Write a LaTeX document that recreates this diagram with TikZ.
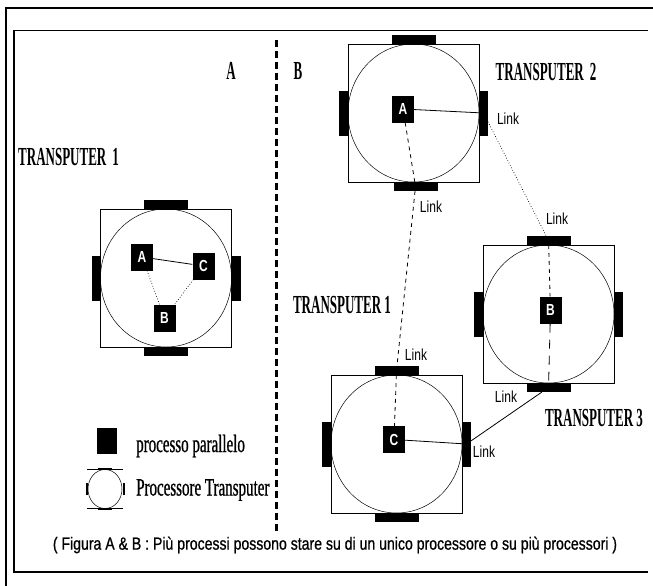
\documentclass[tikz,border=0pt]{standalone}
\usepackage{fontspec}
\usepackage{tikz}
\usetikzlibrary{positioning,shapes.geometric}

\newfontfamily\capfont[FakeStretch=0.5]{Liberation Serif}
\newfontfamily\keyfont[FakeStretch=0.6,FakeBold=0.8]{Liberation Serif}
\newfontfamily\narrowsans[FakeStretch=0.75]{Liberation Sans}
\newfontfamily\notesans[FakeStretch=0.8,FakeBold=0.8]{Liberation Sans}

\begin{document}
\begin{tikzpicture}[x=1pt, y=-1pt,
    box/.style={draw, line width=0.9pt, minimum width=131pt, minimum height=138pt, inner sep=0pt, outer sep=0pt},
    cpu/.style={draw, ellipse, line width=0.5pt, minimum width=131pt, minimum height=138pt, inner sep=0pt},
    hpad/.style={fill=black, minimum width=44pt, minimum height=9pt, inner sep=0pt, outer sep=0pt},
    vpad/.style={fill=black, minimum width=9pt, minimum height=45pt, inner sep=0pt, outer sep=0pt},
    proc/.style={fill=black, text=white, font=\narrowsans\bfseries\fontsize{16}{16}\selectfont, minimum width=22pt, minimum height=27pt, inner sep=0pt},
    link/.style={font=\narrowsans\fontsize{16}{16}\selectfont, inner sep=0pt},
    title/.style={font=\capfont\bfseries\fontsize{26}{26}\selectfont, inner sep=0pt},
    keytext/.style={font=\keyfont\fontsize{25}{25}\selectfont, inner sep=0pt, anchor=west},
    wire/.style={line width=0.8pt},
    shortdash/.style={line width=0.8pt, dash pattern=on 4pt off 4pt},
    dots/.style={line width=0.7pt, dotted},
    longdash/.style={line width=0.8pt, dash pattern=on 9pt off 7pt}]

  \useasboundingbox (0,0) rectangle (653,586);

  %%% Frames and the A | B divider
  \draw[line width=1.2pt] (6,586) -- (6,8) -- (653,8);
  \draw[line width=1.2pt] (648,30.5) -- (14,30.5) -- (14,572) -- (648,572);
  \draw[line width=3pt, dash pattern=on 7pt off 4pt] (276,40) -- (276,532);

  %%% Part A: all processes on one transputer
  \node[title] (labA) at (231,71) {A};
  \node[title, anchor=west] (nameA) at (18,157) {TRANSPUTER\hspace{6pt}1};

  \node[box] (tA) at (166,278) {};
  \node[cpu] (cpuA) at (tA) {};
  \node[hpad, above=0pt of tA] (tAN) {};
  \node[hpad, below=0pt of tA] (tAS) {};
  \node[vpad, left=0pt of tA] (tAW) {};
  \node[vpad, right=0pt of tA] (tAE) {};

  \node[proc] (aA) at (142,257) {A};
  \node[proc] (aC) at (203.5,266) {C};
  \node[proc] (aB) at (164.5,318) {B};

  \draw[wire] (aA) -- (aC);
  \draw[dots] (aA) -- (aB);
  \draw[dots] (aC) -- (aB);

  % Legend
  \node[fill=black, minimum width=20pt, minimum height=26pt, inner sep=0pt] (keyProc) at (107,441) {};
  \node[keytext] (keyProcText) at (136,446) {processo parallelo};
  \node[draw, ellipse, line width=0.5pt, minimum width=34pt, minimum height=39pt, inner sep=0pt] (keyCpu) at (105,489) {};
  \draw[line width=0.8pt] ([xshift=-18pt]keyCpu.north) -- ([xshift=18pt]keyCpu.north);
  \draw[line width=0.8pt] ([xshift=-18pt]keyCpu.south) -- ([xshift=18pt]keyCpu.south);
  \draw[line width=2pt] ([xshift=-7pt]keyCpu.north) -- ([xshift=7pt]keyCpu.north);
  \draw[line width=2pt] ([xshift=-7pt]keyCpu.south) -- ([xshift=7pt]keyCpu.south);
  \draw[line width=2pt] ([xshift=-1pt,yshift=-6pt]keyCpu.west) -- ([xshift=-1pt,yshift=6pt]keyCpu.west);
  \draw[line width=2pt] ([xshift=2pt,yshift=-6pt]keyCpu.east) -- ([xshift=2pt,yshift=6pt]keyCpu.east);
  \node[keytext] (keyCpuText) at (136,490) {Processore Transputer};

  %%% Part B: processes spread over three transputers
  \node[title] (labB) at (298,71) {B};

  % Transputer 2
  \node[box] (tTwo) at (413.5,113) {};
  \node[cpu] (cpuTwo) at (tTwo) {};
  \node[hpad, above=0pt of tTwo] (tTwoN) {};
  \node[hpad, below=0pt of tTwo, xshift=2pt] (tTwoS) {};
  \node[vpad, left=0pt of tTwo] (tTwoW) {};
  \node[vpad, right=0pt of tTwo] (tTwoE) {};
  \node[title] (nameTwo) at (546,72) {TRANSPUTER\hspace{6pt}2};
  \node[proc] (pA) at (403,109) {A};

  % Transputer 3
  \node[box] (tThree) at (548.5,314) {};
  \node[cpu] (cpuThree) at (tThree) {};
  \node[hpad, above=0pt of tThree] (tThreeN) {};
  \node[hpad, below=0pt of tThree] (tThreeS) {};
  \node[vpad, left=0pt of tThree] (tThreeW) {};
  \node[vpad, right=0pt of tThree] (tThreeE) {};
  \node[title] (nameThree) at (594,418) {TRANSPUTER 3};
  \node[proc] (pB) at (550.5,310) {B};

  % Transputer 1
  \node[box] (tOne) at (396.5,444) {};
  \node[cpu] (cpuOne) at (tOne) {};
  \node[hpad, above=0pt of tOne] (tOneN) {};
  \node[hpad, below=0pt of tOne] (tOneS) {};
  \node[vpad, left=0pt of tOne] (tOneW) {};
  \node[vpad, right=0pt of tOne] (tOneE) {};
  \node[title] (nameOne) at (342,305) {TRANSPUTER 1};
  \node[proc] (pC) at (394,439.5) {C};

  % Links
  \node[link] (lkTwoE) at (508,119) {Link};
  \node[link] (lkTwoS) at (431,207) {Link};
  \node[link] (lkThreeN) at (557,219) {Link};
  \node[link] (lkOneN) at (416,355) {Link};
  \node[link] (lkThreeS) at (506,397) {Link};
  \node[link] (lkOneE) at (484,452) {Link};

  \draw[wire] (pA) -- (tTwoE);
  \draw[dots] (tTwoE) -- (tThreeN);
  \draw[shortdash] (tThreeN) -- (pB);
  \draw[longdash] (pB) -- (tThreeS);
  \draw[wire] (tThreeS) -- (tOneE);
  \draw[wire] (pC) -- (tOneE);
  \draw[shortdash] (pA) -- (tTwoS);
  \draw[shortdash] (tTwoS) -- (tOneN);
  \draw[shortdash] (tOneN) -- (pC);

  % Caption
  \node[font=\notesans\fontsize{17.6}{17.6}\selectfont, inner sep=0pt] (caption) at (335,545)
    {( Figura A \& B : Più processi possono stare su di un unico processore o su più processori )};
\end{tikzpicture}
\end{document}
